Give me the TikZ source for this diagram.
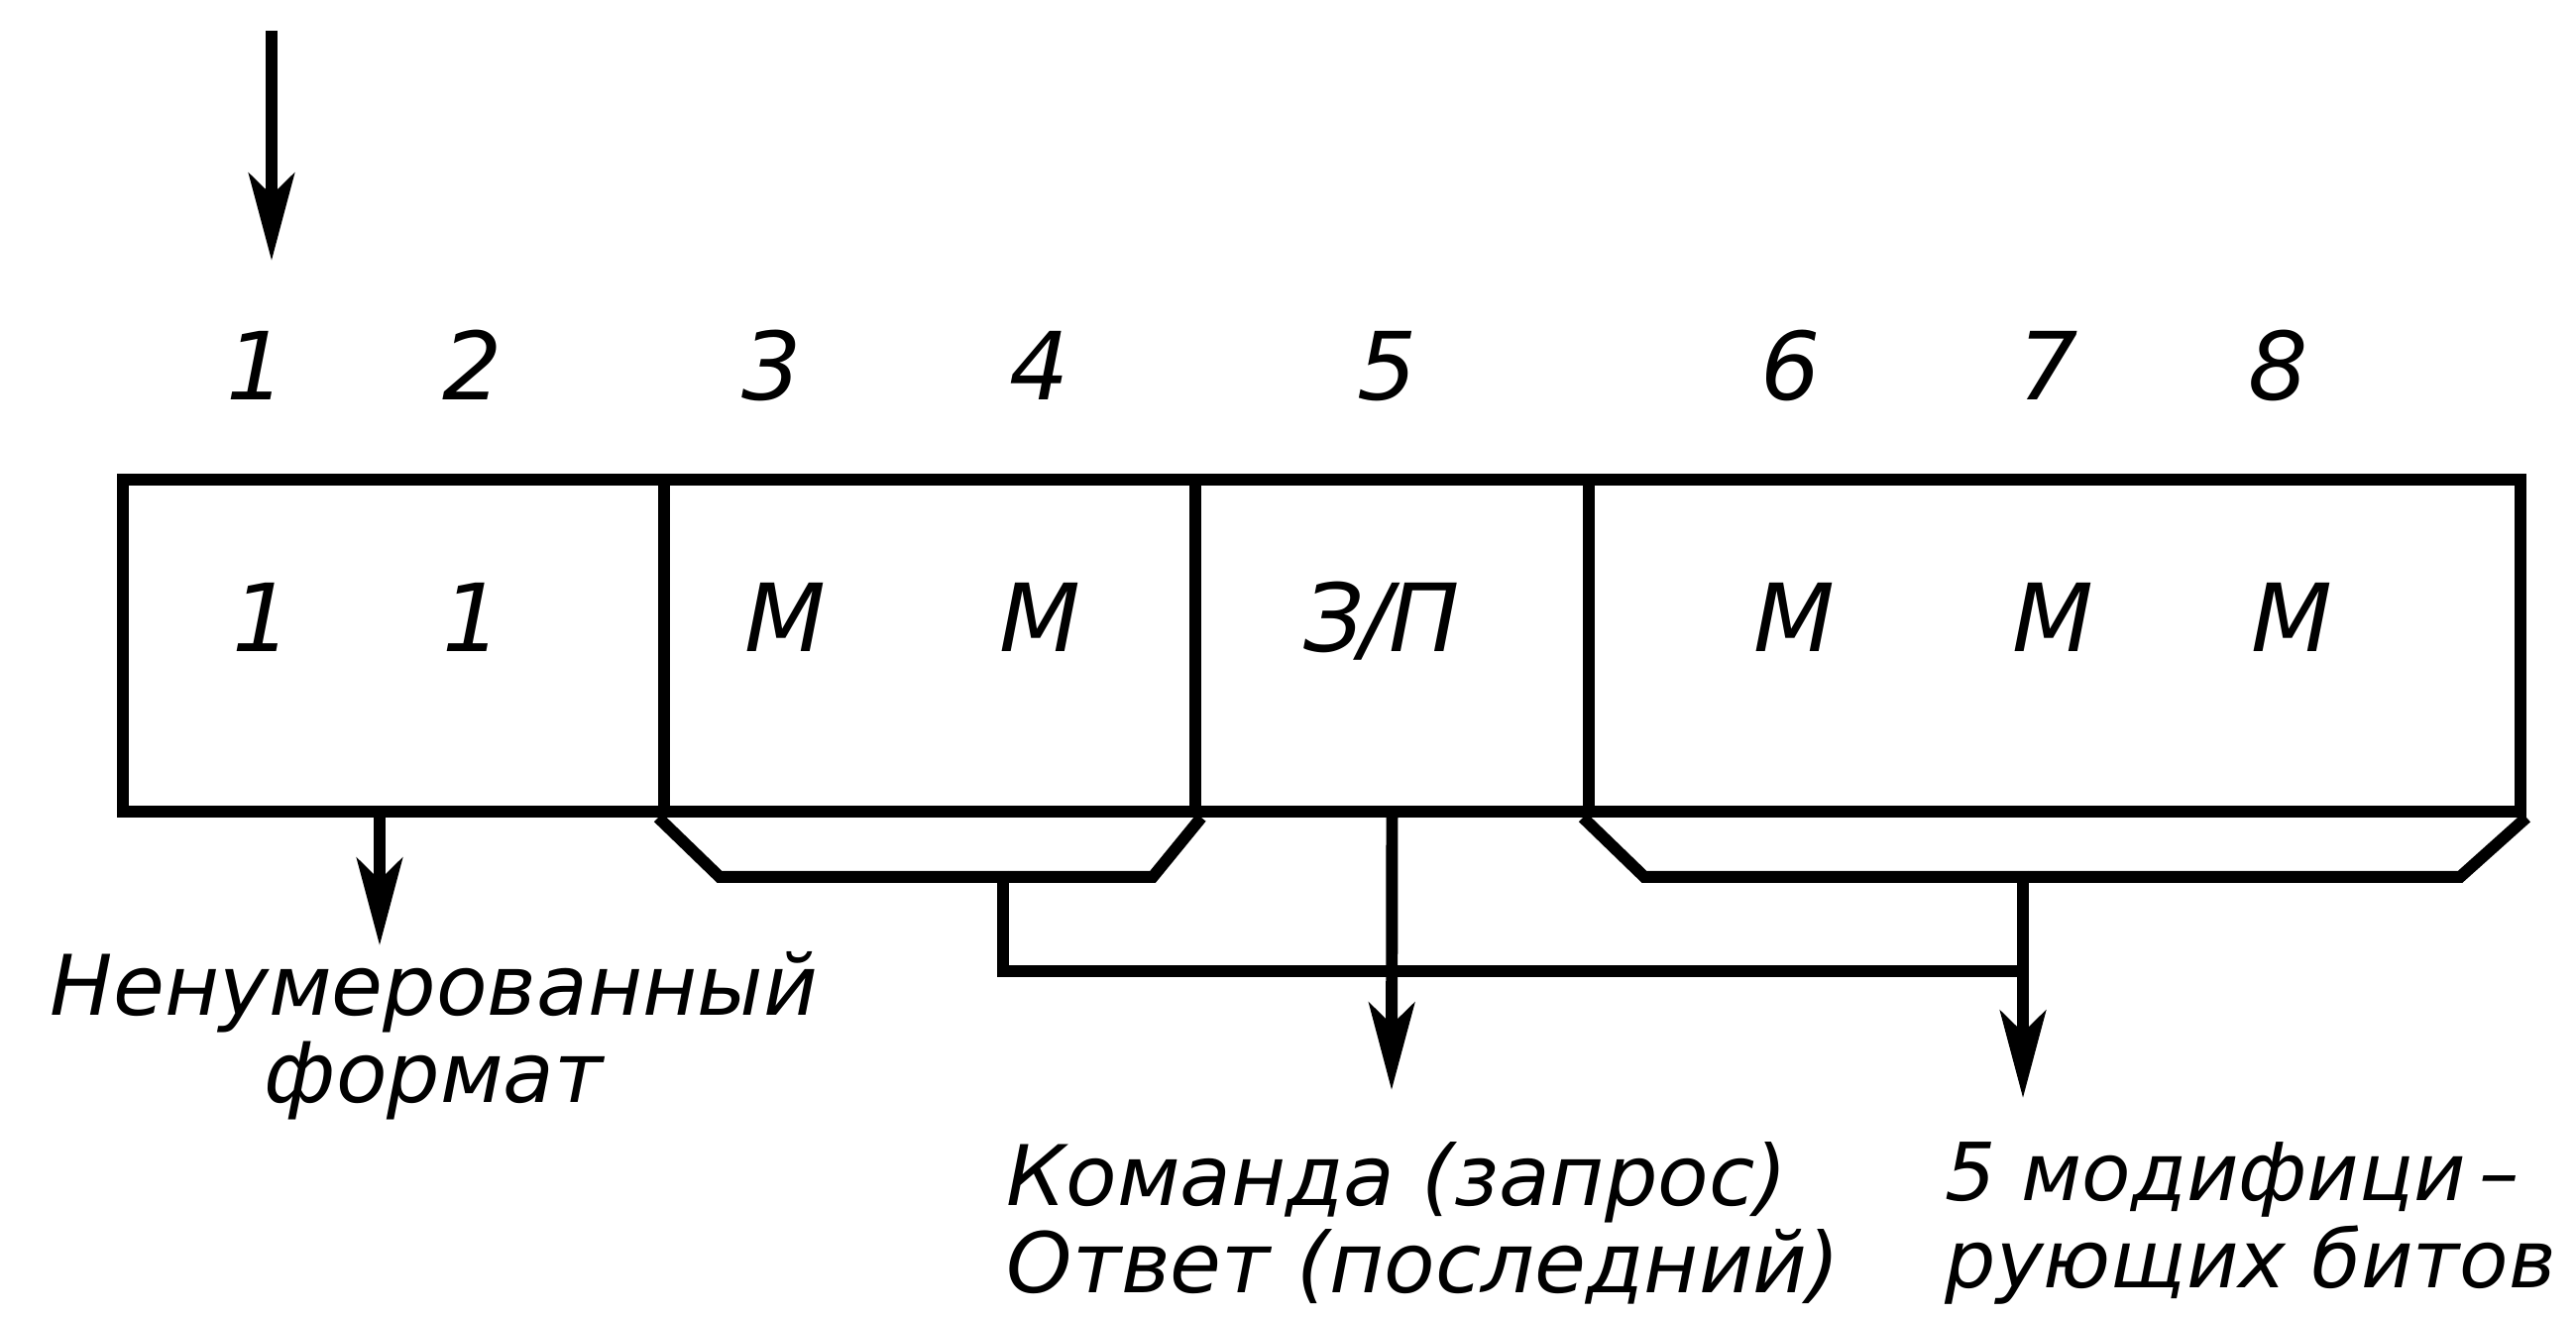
\documentclass[tikz,border=0pt]{standalone}
\usepackage{fontspec}
\setmainfont{DejaVu Sans}
\usetikzlibrary{arrows.meta}

\begin{document}
\begin{tikzpicture}[
	field/.style={draw, line width=3.4pt, inner sep=0pt, minimum height=3.35cm},
	frame/.style={line width=3.4pt, line join=miter},
	link/.style={line width=3.4pt, -{Stealth[length=8.8mm, width=4.6mm, inset=2.2mm]}},
	bitno/.style={font=\fontsize{27}{28}\selectfont\itshape, inner sep=0pt, anchor=base},
	caption/.style={font=\fontsize{24}{25}\selectfont\itshape, inner sep=0pt, anchor=north west}]
	\useasboundingbox (0,0) rectangle (25.99,13.28);
	% Draw fields of the control octet
	\node[field, minimum width=5.46cm] (f12) at (3.97,6.765) {};
	\node[field, minimum width=5.36cm] (f34) at (9.38,6.765) {};
	\node[field, minimum width=3.97cm] (f5) at (14.045,6.765) {};
	\node[field, minimum width=9.40cm] (f68) at (20.73,6.765) {};
	% Bit numbers and values
	\foreach \x/\n in {2.59/1, 4.77/2, 7.79/3, 10.49/4, 14.00/5, 18.07/6, 20.67/7, 22.99/8}
		\node[bitno] (n\n) at (\x,9.24) {\n};
	\foreach \x/\v/\i in {2.65/1/1, 4.77/1/2, 7.92/M/3, 10.49/M/4, 13.94/{З\kern-1pt/\kern-1ptП}/5, 18.10/M/6, 20.71/M/7, 23.12/M/8}
		\node[bitno] (v\i) at (\x,6.70) {\v};
	% Brackets under the M fields
	\draw[frame] (f34.south west) -- ++(0.62,-0.60) -- ([shift={(-0.49,-0.60)}]f34.south east) -- (f34.south east);
	\draw[frame] (f68.south west) -- ++(0.62,-0.60) -- ([shift={(-0.67,-0.60)}]f68.south east) -- (f68.south east);
	\coordinate (j34) at (10.12,4.49);
	\coordinate (j68) at (20.41,4.49);
	\draw[frame] (j34) |- (20.41,3.48);
	% Captions
	\node[caption, align=center] (unnum) at (0.50,3.68) {Ненумерованный\\формат};
	\node[caption, align=left] (cmd) at (10.15,1.76) {Команда (запрос)\\Ответ (последний)};
	\node[caption, align=left, font=\fontsize{23}{25}\selectfont\itshape] (mod) at (19.62,1.76) {5 модифици\,–\\рующих битов};
	% Arrows
	\coordinate (in) at (2.74,12.97);
	\coordinate (inTip) at (2.74,10.65);
	\coordinate (u0) at (3.83,5.09);
	\coordinate (uTip) at (3.83,3.74);
	\coordinate (cTip) at (14.04,2.28);
	\coordinate (mTip) at (20.41,2.20);
	\draw[link] (in) -- (inTip);
	\draw[link] (u0) -- (uTip);
	\draw[link] (f5.south) -- (cTip);
	\draw[link] (j68) -- (mTip);
\end{tikzpicture}
\end{document}
